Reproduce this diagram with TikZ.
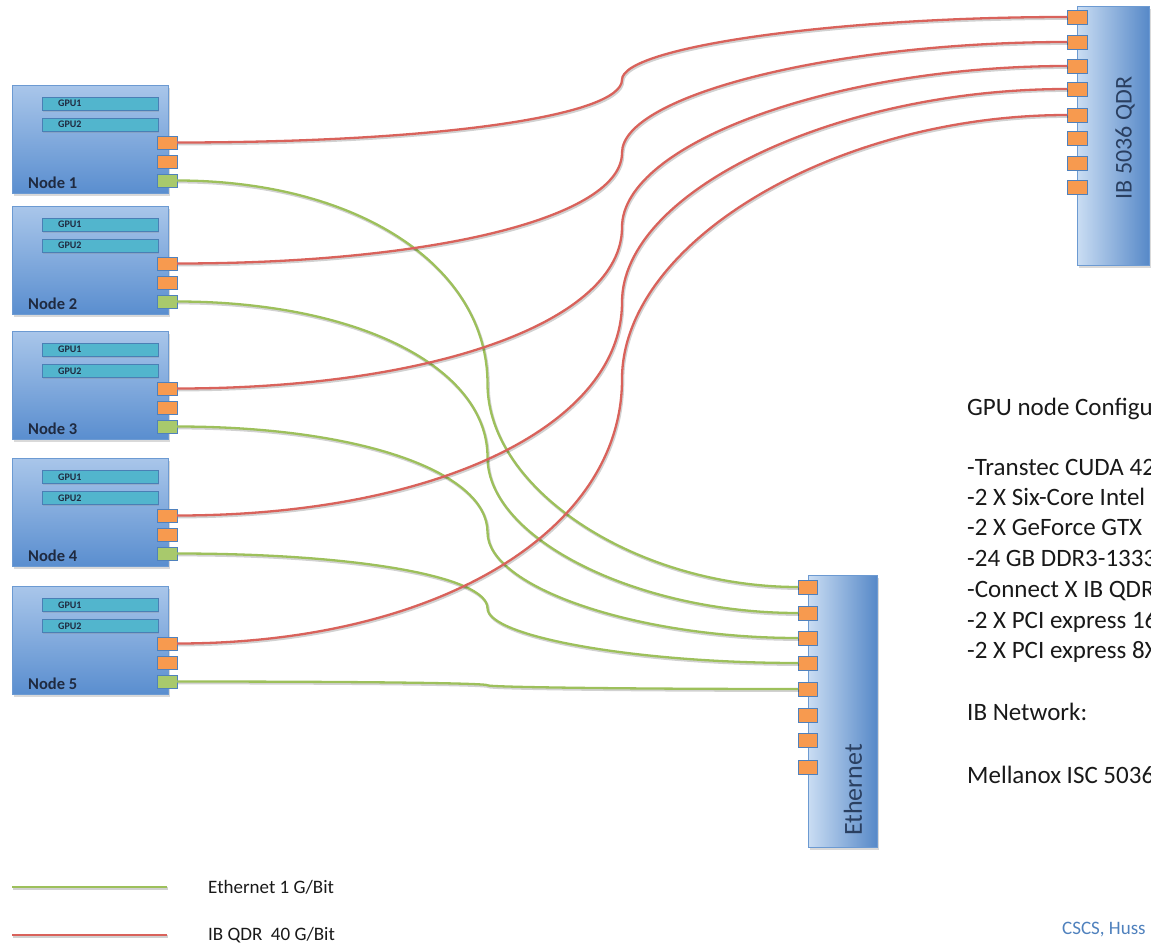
\documentclass[tikz,border=0pt]{standalone}
\usepackage{fontspec}
\setmainfont{Carlito}
\usetikzlibrary{calc,shadows}
\definecolor{nodetop}{HTML}{A9C6EA}
\definecolor{nodebot}{HTML}{5A8ECF}
\definecolor{nodeborder}{HTML}{6C9AD2}
\definecolor{gpufill}{HTML}{52B5CD}
\definecolor{gpuborder}{HTML}{4A7FB5}
\definecolor{portfill}{HTML}{F79A4F}
\definecolor{portborder}{HTML}{4F81BD}
\definecolor{ethfill}{HTML}{A8C96C}
\definecolor{swleft}{HTML}{CADDF3}
\definecolor{swright}{HTML}{5789C8}
\definecolor{ibred}{HTML}{D9625B}
\definecolor{ethgreen}{HTML}{9DC05B}
\definecolor{labelcol}{HTML}{1F2A40}
\definecolor{swtext}{HTML}{2A3F60}
\definecolor{cscs}{HTML}{4F81BD}
\newcommand\netlink[3]{%
  \draw[#1] let \p1=(#2.east), \p2=(#3.west) in
    (\p1) .. controls ({\x1+0.29*(\x2-\x1)},\y1) and ({0.5*(\x1+\x2)},{0.5*(\y1+\y2)+0.29*(\y1-\y2)}) ..
    ({0.5*(\x1+\x2)},{0.5*(\y1+\y2)}) .. controls ({0.5*(\x1+\x2)},{0.5*(\y1+\y2)+0.26*(\y2-\y1)}) and ({\x2-0.26*(\x2-\x1)},\y2) .. (\p2);}
\tikzset{
  nodebox/.style={draw=nodeborder, line width=1pt, top color=nodetop, bottom color=nodebot,
    minimum width=156pt, minimum height=108pt, inner sep=0pt, outer sep=0pt, anchor=north west,
    drop shadow={shadow xshift=2pt, shadow yshift=-2.5pt, opacity=0.3}},
  gpubar/.style={draw=gpuborder, line width=0.8pt, fill=gpufill, minimum width=116pt, minimum height=13.5pt,
    inner sep=0pt, outer sep=0pt, anchor=north west,
    drop shadow={shadow xshift=1pt, shadow yshift=-1.5pt, opacity=0.25}},
  gputext/.style={font=\bfseries\fontsize{10}{10}\selectfont, text=labelcol, inner sep=0pt, anchor=west},
  port/.style={draw=portborder, line width=0.8pt, fill=portfill, minimum width=20pt, minimum height=13pt,
    inner sep=0pt, outer sep=0pt, anchor=west},
  ethport/.style={port, fill=ethfill},
  nodelabel/.style={font=\bfseries\fontsize{16.5}{18}\selectfont, text=labelcol, inner sep=0pt, anchor=west},
  switchbox/.style={draw=nodeborder, line width=1pt, left color=swleft, right color=swright,
    inner sep=0pt, outer sep=0pt, anchor=north west,
    drop shadow={shadow xshift=2pt, shadow yshift=-2.5pt, opacity=0.3}},
  swlabel/.style={rotate=90, text=swtext, inner sep=0pt},
  linkshadow/.style={preaction={draw=black, draw opacity=0.18, line width=2.6pt, transform canvas={shift={(1pt,-1.6pt)}}}},
  iblink/.style={draw=ibred, line width=2.3pt, linkshadow},
  ethlink/.style={draw=ethgreen, line width=2.3pt, linkshadow},
  cfg/.style={font=\fontsize{25}{28}\selectfont, text=black!90, inner sep=0pt, anchor=base west},
  legendtext/.style={font=\fontsize{19}{22}\selectfont, text=black!90, inner sep=0pt, anchor=west}
}
\begin{document}
\begin{tikzpicture}[x=1pt,y=-1pt]
\useasboundingbox (0,0) rectangle (1151,943);
\clip (0,0) rectangle (1151,943);
% switches
\node[switchbox, minimum width=72pt, minimum height=259pt] (ibsw) at (1077,6) {};
\node[switchbox, minimum width=69pt, minimum height=272pt] (ethsw) at (808,575) {};
\node[swlabel, font=\fontsize{24}{26}\selectfont] (ibtxt) at (1125,138) {IB 5036 QDR};
\node[swlabel, font=\fontsize{26}{28}\selectfont] (ethtxt) at (853,790) {Ethernet};
\foreach \k/\y in {1/17,2/42,3/66,4/89,5/115,6/138,7/163,8/187}
  \node[port, minimum width=20pt, minimum height=14pt] (ibp\k) at (1067,\y) {};
\foreach \k/\y in {1/587,2/613,3/638,4/663,5/689,6/715,7/740,8/767}
  \node[port, minimum width=19pt, minimum height=14pt] (ep\k) at (798,\y) {};
% compute nodes
\foreach \i/\t in {1/85,2/206,3/331,4/458,5/586} {
  \node[nodebox] (node\i) at (12,\t) {};
  \node[gpubar] (gpuA\i) at (42,\t+12) {};
  \node[gputext] (gpuAt\i) at ($(gpuA\i.west)+(16,0)$) {GPU1};
  \node[gpubar] (gpuB\i) at (42,\t+33) {};
  \node[gputext] (gpuBt\i) at ($(gpuB\i.west)+(16,0)$) {GPU2};
  \node[port] (ib\i) at (157,\t+57.5) {};
  \node[port] (sp\i) at (157,\t+77) {};
  \node[ethport] (eth\i) at (157,\t+95.5) {};
  \node[nodelabel] (lab\i) at (28,\t+98) {Node \i};
}
% links
\foreach \i in {1,...,5} {
  \netlink{iblink}{ib\i}{ibp\i}
  \netlink{ethlink}{eth\i}{ep\i}
}
% configuration text
\node[cfg] (c1) at (967,415) {GPU node Configu};
\node[cfg] (c2) at (967,475) {-Transtec CUDA 42};
\node[cfg] (c3) at (967,505) {-2 X Six-Core Intel};
\node[cfg] (c4) at (967,535) {-2 X GeForce GTX};
\node[cfg] (c5) at (967,566) {-24 GB DDR3-1333};
\node[cfg] (c6) at (967,597) {-Connect X IB QDR};
\node[cfg] (c7) at (967,628) {-2 X PCI express 16};
\node[cfg] (c8) at (967,658) {-2 X PCI express 8X};
\node[cfg] (c9) at (967,720) {IB Network:};
\node[cfg] (c10) at (967,783) {Mellanox ISC 5036};
% legend
\coordinate (lg1a) at (12,887);
\coordinate (lg1b) at (167,887);
\coordinate (lg2a) at (12,935);
\coordinate (lg2b) at (167,935);
\draw[ethlink] (lg1a) -- (lg1b);
\draw[iblink] (lg2a) -- (lg2b);
\node[legendtext] (lgt1) at (208,887) {Ethernet 1 G/Bit};
\node[legendtext] (lgt2) at (208,935) {IB QDR~~40 G/Bit};
\node[legendtext, text=cscs] (cscs) at (1062,930) {CSCS, Huss};
\end{tikzpicture}
\end{document}
